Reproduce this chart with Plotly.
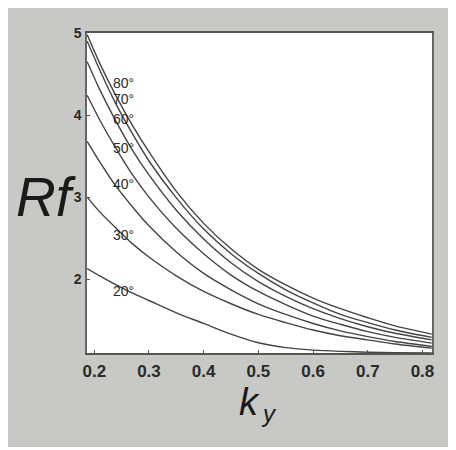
import plotly.graph_objects as go

ky = [0.187, 0.21, 0.24, 0.27, 0.30, 0.35, 0.40, 0.45, 0.50, 0.55, 0.60, 0.65, 0.70, 0.75, 0.817]
rf_80 = [4.98, 4.63, 4.23, 3.87, 3.55, 3.07, 2.68, 2.37, 2.12, 1.93, 1.77, 1.64, 1.53, 1.43, 1.33]
rf_70 = [4.90, 4.55, 4.13, 3.77, 3.44, 2.99, 2.61, 2.31, 2.07, 1.87, 1.71, 1.57, 1.47, 1.38, 1.29]
rf_60 = [4.65, 4.31, 3.92, 3.57, 3.27, 2.84, 2.49, 2.20, 1.97, 1.79, 1.64, 1.52, 1.42, 1.34, 1.26]
rf_50 = [4.24, 3.94, 3.59, 3.27, 3.00, 2.62, 2.31, 2.05, 1.85, 1.69, 1.55, 1.45, 1.36, 1.29, 1.22]
rf_40 = [3.68, 3.43, 3.13, 2.88, 2.65, 2.33, 2.07, 1.87, 1.70, 1.57, 1.46, 1.37, 1.30, 1.24, 1.18]
rf_30 = [3.00, 2.82, 2.62, 2.43, 2.27, 2.04, 1.85, 1.70, 1.57, 1.47, 1.38, 1.31, 1.26, 1.21, 1.16]
rf_20 = [2.13, 2.04, 1.93, 1.83, 1.74, 1.59, 1.46, 1.33, 1.225, 1.165, 1.135, 1.12, 1.11, 1.105, 1.10]

angle_labels = ["80°", "70°", "60°", "50°", "40°", "30°", "20°"]
series = [rf_80, rf_70, rf_60, rf_50, rf_40, rf_30, rf_20]

x_ticks = [0.2, 0.3, 0.4, 0.5, 0.6, 0.7, 0.8]
x_tick_text = ["0.2", "0.3", "0.4", "0.5", "0.6", "0.7", "0.8"]
y_ticks = [2, 3, 4, 5]
y_tick_text = ["2", "3", "4", "5"]

GRAY = "#c8c9c5"
INK = "#2a2a2a"

fig = go.Figure()
for name, ys in zip(angle_labels, series):
    fig.add_trace(go.Scatter(x=ky, y=ys, mode="lines", name=name,
                             line=dict(color="#444444", width=1.4, shape="spline", smoothing=0.8),
                             showlegend=False, hoverinfo="skip"))

# curve labels (positions are layout, not data)
label_pos = [(0.2534, 4.39), (0.2534, 4.195), (0.2534, 3.951), (0.2534, 3.597),
             (0.2534, 3.158), (0.2534, 2.536), (0.2534, 1.853)]
for txt, (lx, ly) in zip(angle_labels, label_pos):
    fig.add_annotation(x=lx, y=ly, xref="x", yref="y", text=txt, showarrow=False,
                       font=dict(family="Liberation Sans", size=14, color=INK),
                       xanchor="center", yanchor="middle")

# axis titles
fig.add_annotation(x=-0.116, y=0.4875, xref="paper", yref="paper", text="<i>Rf</i>",
                   showarrow=False, font=dict(family="Liberation Sans", size=55, color="#1a1a1a"),
                   xanchor="center", yanchor="middle")
fig.add_annotation(x=0.506, y=-0.152, xref="paper", yref="paper", text="<i>k</i>",
                   showarrow=False, font=dict(family="Liberation Sans", size=38, color="#1a1a1a"),
                   xanchor="right", yanchor="middle")
fig.add_annotation(x=0.498, y=-0.19, xref="paper", yref="paper", text="<i>y</i>",
                   showarrow=False, font=dict(family="Liberation Sans", size=24, color="#1a1a1a"),
                   xanchor="left", yanchor="middle")

fig.update_layout(
    width=448, height=439,
    margin=dict(l=79, r=24, t=25, b=94, autoexpand=False),
    paper_bgcolor=GRAY, plot_bgcolor="white",
    xaxis=dict(range=[0.1867, 0.8174], tickvals=x_ticks, ticktext=x_tick_text, automargin=False,
               ticks="inside", ticklen=3, tickcolor="#555", showgrid=False, zeroline=False,
               showline=True, linecolor="#555", linewidth=1.5, mirror=True,
               tickfont=dict(family="Liberation Sans", size=17, color=INK, weight="bold"),
               ticklabelstandoff=2),
    yaxis=dict(range=[1.1, 5.0], tickvals=y_ticks, ticktext=y_tick_text, automargin=False,
               ticks="inside", ticklen=3, tickcolor="#555", showgrid=False, zeroline=False,
               showline=True, linecolor="#666", linewidth=1.5, mirror=True,
               tickfont=dict(family="Liberation Sans", size=14, color=INK, weight="bold"),
               ticklabelstandoff=1),
)

fig.write_html("out.html")
